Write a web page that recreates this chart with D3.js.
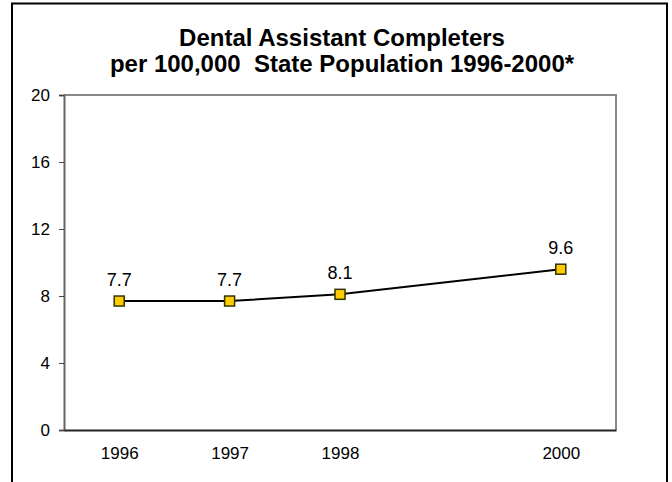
<!DOCTYPE html>
<html><head><meta charset="utf-8">
<script src="https://cdn.jsdelivr.net/npm/d3@7"></script>
<style>body{margin:0;background:#fff}svg{display:block}text{font-family:"Liberation Sans",Arial,sans-serif}</style>
</head><body>
<script>
const years = [1996, 1997, 1998, 2000];
const values = [7.7, 7.7, 8.1, 9.6];
const yTicks = [0, 4, 8, 12, 16, 20];
const titleLines = ["Dental Assistant Completers", "per 100,000  State Population 1996-2000*"];

const W = 672, H = 482;
const svg = d3.select("body").append("svg").attr("width", W).attr("height", H);

// outer frame
svg.append("rect").attr("x", 12).attr("y", 3.5).attr("width", 655).attr("height", 500)
  .attr("fill", "none").attr("stroke", "#000").attr("stroke-width", 2);

const x = d3.scaleLinear().domain([1995.5, 2000.5]).range([64, 616]);
const y = d3.scaleLinear().domain([0, 20]).range([430, 95]);

// title
svg.selectAll("text.title").data(titleLines).join("text").attr("class", "title")
  .attr("x", 342).attr("y", (d, i) => 46 + i * 26).attr("text-anchor", "middle")
  .attr("font-size", 24).attr("font-weight", "bold").style("white-space", "pre").text(d => d);

// plot border (top/right)
svg.append("path").attr("d", `M${x(1995.5)},${y(20)}H${x(2000.5)}V${y(0)}`)
  .attr("fill", "none").attr("stroke", "#888").attr("stroke-width", 2);

// y axis
const ya = svg.append("g").attr("transform", `translate(${x(1995.5)},0)`)
  .call(d3.axisLeft(y).tickValues(yTicks).tickSize(5).tickPadding(9).tickFormat(d3.format("d")));
ya.select(".domain").attr("stroke", "#666").attr("stroke-width", 2);
ya.selectAll(".tick line").attr("stroke", "#444");
ya.selectAll(".tick text").attr("font-size", 17).attr("fill", "#000").attr("font-family", "Liberation Sans, Arial, sans-serif");

// x axis
const xa = svg.append("g").attr("transform", `translate(0,${y(0)})`)
  .call(d3.axisBottom(x).tickValues(years).tickSize(0).tickPadding(17).tickFormat(d3.format("d")));
xa.select(".domain").attr("stroke", "#222").attr("stroke-width", 2);
xa.selectAll(".tick text").attr("font-size", 17).attr("fill", "#000").attr("font-family", "Liberation Sans, Arial, sans-serif");

const pts = years.map((yr, i) => ({yr, v: values[i]}));

svg.append("path").datum(pts)
  .attr("d", d3.line().x(d => x(d.yr)).y(d => y(d.v)))
  .attr("fill", "none").attr("stroke", "#000").attr("stroke-width", 2);

svg.selectAll("rect.m").data(pts).join("rect").attr("class", "m")
  .attr("x", d => x(d.yr) - 5).attr("y", d => y(d.v) - 5).attr("width", 10).attr("height", 10)
  .attr("fill", "#FFCC00").attr("stroke", "#333300").attr("stroke-width", 1.5);

svg.selectAll("text.lbl").data(pts).join("text").attr("class", "lbl")
  .attr("x", d => x(d.yr)).attr("y", d => y(d.v) - 15).attr("text-anchor", "middle")
  .attr("font-size", 18).text(d => d.v.toFixed(1));
</script>
</body></html>
